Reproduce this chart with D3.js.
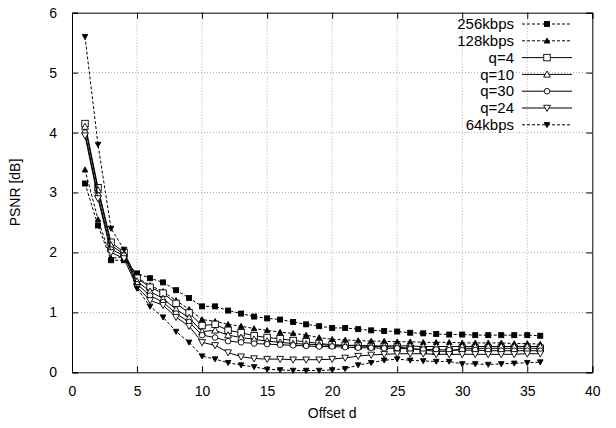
<!DOCTYPE html>
<html><head><meta charset="utf-8">
<script src="https://cdn.jsdelivr.net/npm/d3@7"></script>
<style>body{margin:0;background:#fff}svg{display:block}text{font-family:"Liberation Sans",Arial,sans-serif;fill:#000}</style>
</head><body><svg id="c" width="616" height="428"></svg>
<script>
const offsets = [1,2,3,4,5,6,7,8,9,10,11,12,13,14,15,16,17,18,19,20,21,22,23,24,25,26,27,28,29,30,31,32,33,34,35,36];
const s256 = [3.15,2.45,1.87,1.87,1.65,1.57,1.50,1.37,1.24,1.10,1.10,1.03,0.98,0.93,0.90,0.88,0.84,0.80,0.77,0.74,0.74,0.72,0.70,0.69,0.68,0.66,0.65,0.64,0.63,0.63,0.62,0.62,0.62,0.62,0.62,0.61];
const s128 = [3.38,2.55,1.90,1.93,1.58,1.45,1.35,1.20,1.05,0.88,0.85,0.80,0.77,0.73,0.70,0.67,0.65,0.62,0.58,0.55,0.54,0.53,0.52,0.52,0.51,0.51,0.50,0.50,0.50,0.49,0.49,0.49,0.49,0.48,0.48,0.47];
const q4   = [4.15,3.08,2.17,2.00,1.57,1.42,1.32,1.15,0.99,0.78,0.80,0.70,0.66,0.61,0.58,0.56,0.53,0.51,0.48,0.46,0.45,0.44,0.43,0.43,0.42,0.40,0.37,0.35,0.35,0.40,0.40,0.40,0.40,0.40,0.40,0.40];
const q10  = [4.10,3.04,2.12,1.97,1.52,1.35,1.23,1.05,0.91,0.68,0.70,0.62,0.58,0.55,0.52,0.50,0.48,0.47,0.46,0.45,0.45,0.45,0.44,0.44,0.44,0.44,0.43,0.43,0.43,0.43,0.43,0.43,0.43,0.43,0.43,0.43];
const q30  = [4.00,2.95,2.05,1.95,1.47,1.28,1.17,0.98,0.84,0.62,0.58,0.52,0.50,0.48,0.47,0.46,0.45,0.44,0.43,0.43,0.42,0.41,0.41,0.40,0.40,0.39,0.38,0.38,0.37,0.37,0.37,0.36,0.36,0.36,0.36,0.36];
const q24  = [3.95,2.90,2.00,1.90,1.42,1.20,1.12,0.92,0.77,0.50,0.45,0.33,0.26,0.23,0.22,0.22,0.21,0.21,0.21,0.22,0.24,0.27,0.29,0.30,0.31,0.31,0.31,0.30,0.30,0.30,0.30,0.30,0.30,0.30,0.31,0.31];
const s64  = [5.60,3.80,2.40,2.05,1.40,1.10,0.92,0.68,0.50,0.27,0.22,0.16,0.12,0.09,0.05,0.04,0.03,0.03,0.03,0.04,0.06,0.12,0.16,0.20,0.22,0.20,0.19,0.18,0.18,0.14,0.14,0.13,0.14,0.15,0.16,0.17];
const xTicks = [0,5,10,15,20,25,30,35,40];
const yTicks = [0,1,2,3,4,5,6];
const seriesNames = ["256kbps","128kbps","q=4","q=10","q=30","q=24","64kbps"];
const seriesValues = [s256,s128,q4,q10,q30,q24,s64];
const seriesMarkers = ["fsquare","ftri","osquare","otri","ocircle","odtri","fdtri"];
const seriesDashed = [true,true,false,false,false,false,true];

const svg = d3.select("#c");
const L=72, R=592.3, T=12.7, B=372.3;
const x = d3.scaleLinear().domain([0,40]).range([L,R]);
const y = d3.scaleLinear().domain([0,6]).range([B,T]);

const g = svg.append("g");
xTicks.filter(t=>t>0&&t<40).forEach(t=>g.append("line").attr("x1",x(t)).attr("x2",x(t)).attr("y1",T).attr("y2",B).attr("stroke","#aaa").attr("stroke-dasharray","1,2"));
yTicks.filter(t=>t>0&&t<6).forEach(t=>g.append("line").attr("x1",L).attr("x2",R).attr("y1",y(t)).attr("y2",y(t)).attr("stroke","#aaa").attr("stroke-dasharray","1,2"));

const tl=6;
const xb = svg.append("g").attr("transform",`translate(0,${B})`).call(d3.axisBottom(x).tickValues(xTicks).tickFormat(d3.format("d")).tickSize(-tl).tickPadding(tl+8));
const xt = svg.append("g").attr("transform",`translate(0,${T})`).call(d3.axisTop(x).tickValues(xTicks).tickSize(-tl).tickFormat(""));
const yl = svg.append("g").attr("transform",`translate(${L},0)`).call(d3.axisLeft(y).tickValues(yTicks).tickFormat(d3.format("d")).tickSize(-tl).tickPadding(tl+9));
const yr = svg.append("g").attr("transform",`translate(${R},0)`).call(d3.axisRight(y).tickValues(yTicks).tickSize(-tl).tickFormat(""));
[xb,xt,yl,yr].forEach(a=>{a.select(".domain").attr("stroke","#000");a.selectAll(".tick line").attr("stroke","#000");a.selectAll("text").attr("font-size",14).attr("font-family","Liberation Sans, Arial, sans-serif").attr("fill","#000");});

svg.append("text").attr("x",x(20)).attr("y",418).attr("text-anchor","middle").attr("font-size",14).text("Offset d");
svg.append("text").attr("transform",`translate(20,${(T+B)/2}) rotate(-90)`).attr("text-anchor","middle").attr("font-size",14).text("PSNR [dB]");

function marker(sel, type, cx, cy){
  const filled = type[0]==="f";
  const k = type.slice(1);
  let el;
  if(k==="square"){ const s = filled?5:6.5; el = sel.append("rect").attr("x",cx-s/2).attr("y",cy-s/2).attr("width",s).attr("height",s); }
  else if(k==="circle"){ el = sel.append("circle").attr("cx",cx).attr("cy",cy).attr("r",2.8); }
  else if(k==="tri"){ const s=filled?2.8:3.4; el = sel.append("path").attr("d",`M${cx},${cy-s}L${cx+s},${cy+s*0.8}L${cx-s},${cy+s*0.8}Z`); }
  else { const s=filled?2.8:3.4; el = sel.append("path").attr("d",`M${cx},${cy+s}L${cx+s},${cy-s*0.8}L${cx-s},${cy-s*0.8}Z`); }
  el.attr("fill",filled?"#000":"#fff").attr("stroke","#000").attr("stroke-width",0.9);
}

const line = d3.line().x((d,i)=>x(offsets[i])).y(d=>y(d));
seriesValues.forEach((vals,si)=>{
  const gg = svg.append("g");
  gg.append("path").attr("d",line(vals)).attr("fill","none").attr("stroke","#000").attr("stroke-width",1)
    .attr("stroke-dasharray",seriesDashed[si]?"3,2":null);
  vals.forEach((v,i)=>marker(gg,seriesMarkers[si],x(offsets[i]),y(v)));
});

seriesNames.forEach((n,i)=>{
  const cy = 24 + i*16.8;
  svg.append("text").attr("x",514).attr("y",cy).attr("dy","0.35em").attr("text-anchor","end").attr("font-size",15).text(n);
  svg.append("line").attr("x1",522).attr("x2",572).attr("y1",cy).attr("y2",cy).attr("stroke","#000").attr("stroke-dasharray",seriesDashed[i]?"3,2":null);
  marker(svg,seriesMarkers[i],547,cy);
});
</script></body></html>
